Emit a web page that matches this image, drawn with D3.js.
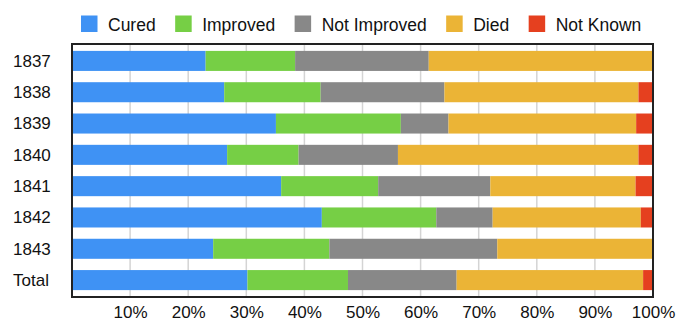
<!DOCTYPE html>
<html>
<head>
<meta charset="utf-8">
<script src="https://cdn.jsdelivr.net/npm/d3@7"></script>
<style>
  body { margin: 0; background: #fff; }
  svg { display: block; font-family: "Liberation Sans", Arial, sans-serif; }
</style>
</head>
<body>
<div id="chart"></div>
<script>
let width = 676;
let height = 322;

// outcome shares in percent
let years = ["1837", "1838", "1839", "1840", "1841", "1842", "1843", "Total"];
let outcomes = ["Cured", "Improved", "Not Improved", "Died", "Not Known"];
let cured       = [23.0, 26.2, 35.1, 26.7, 36.0, 43.0, 24.3, 30.2];
let improved    = [15.4, 16.6, 21.5, 12.3, 16.7, 19.7, 20.0, 17.3];
let notImproved = [23.0, 21.3,  8.2, 17.1, 19.3,  9.7, 28.9, 18.7];
let died        = [38.6, 33.4, 32.3, 41.4, 25.0, 25.5, 26.8, 32.1];
let notKnown    = [ 0.0,  2.5,  2.9,  2.5,  3.0,  2.1,  0.0,  1.7];
let tickLabels = ["10%", "20%", "30%", "40%", "50%", "60%", "70%", "80%", "90%", "100%"];
let colours = ["#3f92f4", "#76cf45", "#888888", "#ebb436", "#e5401f"];

let margin = {top: 44, right: 23, bottom: 25, left: 72};

let rows = years.map((y, i) => ({
    year: y,
    "Cured": cured[i],
    "Improved": improved[i],
    "Not Improved": notImproved[i],
    "Died": died[i],
    "Not Known": notKnown[i],
}));
let series = d3.stack().keys(outcomes)(rows);

let x = d3.scaleLinear().domain([0, 100]).range([margin.left, width - margin.right]);
let y = d3.scaleBand().domain(years)
    .range([margin.top, height - margin.bottom])
    .paddingInner(0.36).paddingOuter(0.22);
let colour = d3.scaleOrdinal().domain(outcomes).range(colours);

let svg = d3.select("#chart").append("svg")
    .attr("width", width).attr("height", height);

// grid lines
svg.append("g").attr("class", "grid")
    .selectAll("line")
    .data(d3.range(10, 101, 10))
    .enter().append("line")
    .attr("x1", d => x(d)).attr("x2", d => x(d))
    .attr("y1", margin.top).attr("y2", height - margin.bottom)
    .attr("stroke", "#d4d4d4")
    .attr("stroke-width", 1.5);

// stacked bars
svg.append("g").selectAll("g")
    .data(series)
    .enter().append("g")
    .attr("fill", d => colour(d.key))
    .selectAll("rect")
    .data(d => d)
    .enter().append("rect")
    .attr("x", d => x(d[0]))
    .attr("width", d => Math.max(0, x(d[1]) - x(d[0])))
    .attr("y", d => y(d.data.year))
    .attr("height", y.bandwidth());

// frame
svg.append("rect")
    .attr("x", margin.left).attr("y", margin.top)
    .attr("width", x(100) - margin.left)
    .attr("height", height - margin.bottom - margin.top)
    .attr("fill", "none")
    .attr("stroke", "#222")
    .attr("stroke-width", 2);

// x tick labels
let xAxis = d3.axisBottom(x)
    .tickValues(d3.range(10, 101, 10))
    .tickSize(0)
    .tickFormat((d, i) => tickLabels[i]);
let gx = svg.append("g")
    .attr("transform", `translate(0, ${height - margin.bottom})`)
    .call(xAxis);
gx.select(".domain").remove();
gx.selectAll("text")
    .attr("y", 21).attr("dy", 0)
    .attr("font-size", 17)
    .attr("font-family", '"Liberation Sans", Arial, sans-serif')
    .attr("fill", "#111");

// y labels, left aligned
let yAxis = d3.axisLeft(y).tickSize(0);
let gy = svg.append("g")
    .attr("transform", `translate(${margin.left}, 0)`)
    .call(yAxis);
gy.select(".domain").remove();
gy.selectAll("text")
    .attr("text-anchor", "start")
    .attr("x", 13 - margin.left)
    .attr("dy", "0.35em")
    .attr("font-size", 17)
    .attr("font-family", '"Liberation Sans", Arial, sans-serif')
    .attr("fill", "#111");

// legend
let legend = svg.append("g").attr("class", "legend");
let lx = 81;
for (let key of outcomes) {
    let item = legend.append("g").attr("transform", `translate(${lx}, 0)`);
    item.append("rect")
        .attr("y", 15.5)
        .attr("width", 16.5).attr("height", 16.5)
        .attr("fill", colour(key));
    let t = item.append("text")
        .attr("x", 27).attr("y", 31)
        .attr("font-size", 17.5)
        .attr("fill", "#111")
        .text(key);
    lx += 27 + t.node().getComputedTextLength() + 19.5;
}
</script>
</body>
</html>
